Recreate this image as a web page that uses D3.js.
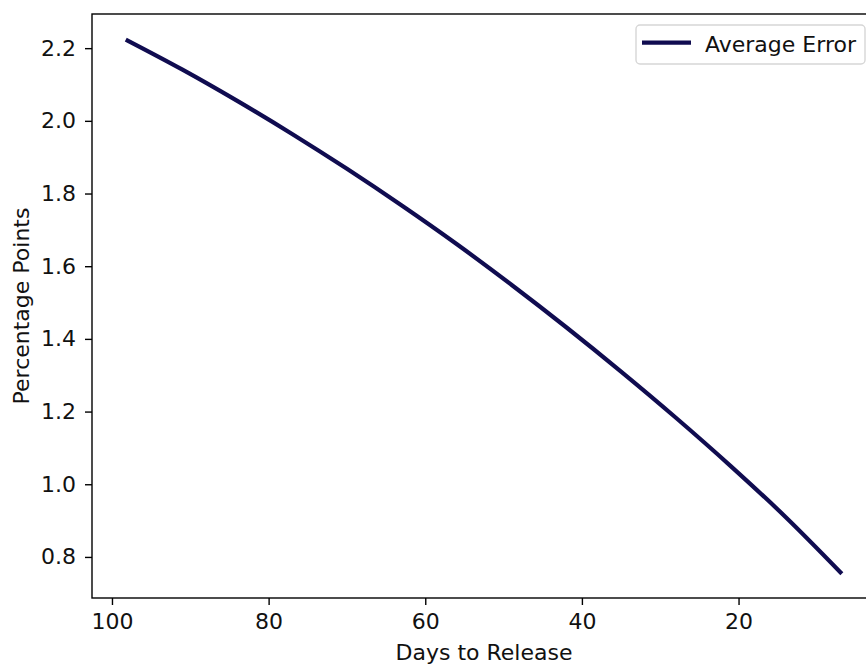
<!DOCTYPE html>
<html>
<head>
<meta charset="utf-8">
<script src="https://cdn.jsdelivr.net/npm/d3@7"></script>
<style>
  html, body { margin: 0; padding: 0; background: #fff; }
  svg { display: block; font-family: "DejaVu Sans", sans-serif; }
</style>
</head>
<body>
<script>
// Data
const days = [98, 91, 84, 77, 70, 63, 56, 49, 42, 35, 28, 21, 14, 7];
const avgError = [2.221, 2.141, 2.055, 1.964, 1.868, 1.767, 1.661, 1.549, 1.432, 1.310, 1.183, 1.050, 0.910, 0.758];
const xTicks = [100, 80, 60, 40, 20];
const yTicks = [0.8, 1.0, 1.2, 1.4, 1.6, 1.8, 2.0, 2.2];
const seriesName = "Average Error";
const xLabel = "Days to Release";
const yLabel = "Percentage Points";

const W = 866, H = 664;
const mLeft = 92, mRight = 876, mTop = 14, mBottom = 598;
const fontSize = 22;
const lineColor = "#100c50";

const svg = d3.select("body").append("svg").attr("width", W).attr("height", H);

const x = d3.scaleLinear().domain([102.55, 2.45]).range([mLeft, mRight]);
const y = d3.scaleLinear().domain([0.687, 2.294]).range([mBottom, mTop]);

const data = days.map((d, i) => ({ d, v: avgError[i] }));

svg.append("defs").append("clipPath").attr("id", "clip")
  .append("rect").attr("x", mLeft).attr("y", mTop).attr("width", mRight - mLeft).attr("height", mBottom - mTop);

const line = d3.line().x(p => x(p.d)).y(p => y(p.v)).curve(d3.curveMonotoneX);
svg.append("path").datum(data)
  .attr("clip-path", "url(#clip)")
  .attr("d", line)
  .attr("fill", "none")
  .attr("stroke", lineColor)
  .attr("stroke-width", 4.2)
  .attr("stroke-linecap", "square");

const xAxis = d3.axisBottom(x).tickValues(xTicks).tickFormat(d3.format("d")).tickSizeOuter(0).tickSize(7).tickPadding(8);
const yAxis = d3.axisLeft(y).tickValues(yTicks).tickFormat(d3.format(".1f")).tickSizeOuter(0).tickSize(7).tickPadding(9);

const gx = svg.append("g").attr("transform", `translate(0,${mBottom})`).call(xAxis);
const gy = svg.append("g").attr("transform", `translate(${mLeft},0)`).call(yAxis);
[gx, gy].forEach(g => {
  g.select(".domain").remove();
  g.selectAll(".tick line").attr("stroke", "#000").attr("stroke-width", 1.4);
  g.selectAll(".tick text").attr("fill", "#111").attr("font-size", fontSize).attr("font-family", "DejaVu Sans");
});

svg.append("rect").attr("x", mLeft).attr("y", mTop).attr("width", mRight - mLeft).attr("height", mBottom - mTop)
  .attr("fill", "none").attr("stroke", "#000").attr("stroke-width", 1.4);

svg.append("text").attr("x", (mLeft + mRight) / 2).attr("y", 660)
  .attr("text-anchor", "middle").attr("font-size", fontSize).attr("fill", "#111").text(xLabel);
svg.append("text").attr("transform", `translate(28.5,${(mTop + mBottom) / 2}) rotate(-90)`)
  .attr("text-anchor", "middle").attr("font-size", fontSize).attr("fill", "#111").text(yLabel);

const lg = svg.append("g");
lg.append("rect").attr("x", 636).attr("y", 25).attr("width", 229).attr("height", 39)
  .attr("rx", 4).attr("fill", "#fff").attr("fill-opacity", 0.8).attr("stroke", "#d6d6d6").attr("stroke-width", 1.4);
lg.append("line").attr("x1", 642).attr("x2", 691).attr("y1", 42.7).attr("y2", 42.7)
  .attr("stroke", lineColor).attr("stroke-width", 4.2);
lg.append("text").attr("x", 705).attr("y", 51.5).attr("font-size", fontSize).attr("fill", "#111").text(seriesName);
</script>
</body>
</html>
